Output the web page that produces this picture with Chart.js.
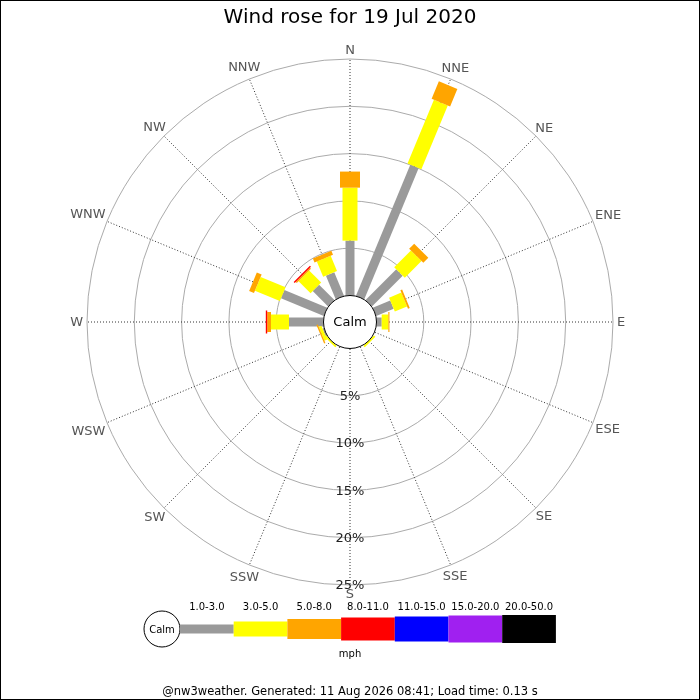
<!DOCTYPE html>
<html lang="en">
<head>
<meta charset="UTF-8">
<title>Wind rose for 19 Jul 2020</title>
<script src="https://cdn.jsdelivr.net/npm/chart.js"></script>
<style>
    body { margin: 0; background: #fff; }
    canvas { display: block; }
</style>
</head>
<body>
<canvas id="rose" width="700" height="700"></canvas>
<script>
const directions = ['N', 'NNE', 'NE', 'ENE', 'E', 'ESE', 'SE', 'SSE', 'S', 'SSW', 'SW', 'WSW', 'W', 'WNW', 'NW', 'NNW'];
const speedBands = ['1.0-3.0', '3.0-5.0', '5.0-8.0', '8.0-11.0', '11.0-15.0', '15.0-20.0', '20.0-50.0'];
const tickValues = [5, 10, 15, 20, 25];

// % of the day per direction, one array per speed band (mph)
const band1to3   = [5.8, 15.0, 4.6, 2.0, 0.55, 0, 0,   0, 0, 0, 0,   0.15, 3.65, 4.9,  2.3,  2.7];
const band3to5   = [5.6, 7.3,  2.5, 1.4, 0.7,  0, 0.2, 0, 0, 0, 0.2, 0.3,  1.9,  2.85, 1.8,  1.75];
const band5to8   = [1.7, 2.0,  0.75, 0.2, 0.12, 0, 0,  0, 0, 0, 0,   0.15, 0.4,  0.55, 0.15, 0.45];
const band8to11  = [0,   0,    0,   0,   0,    0, 0,   0, 0, 0, 0,   0,    0.15, 0,    0.15, 0];
const band11to15 = [0, 0, 0, 0, 0, 0, 0, 0, 0, 0, 0, 0, 0, 0, 0, 0];
const band15to20 = [0, 0, 0, 0, 0, 0, 0, 0, 0, 0, 0, 0, 0, 0, 0, 0];
const band20to50 = [0, 0, 0, 0, 0, 0, 0, 0, 0, 0, 0, 0, 0, 0, 0, 0];

const series = [band1to3, band3to5, band5to8, band8to11, band11to15, band15to20, band20to50];
const bandColours = ['#9a9a9a', '#ffff00', '#ffa500', '#ff0000', '#0000ff', '#a020f0', '#000000'];
const bandWidths = [9, 15, 20, 23, 25, 27, 28];
const FONT = '"DejaVu Sans", sans-serif';

// radar points sit at the cumulative end of each band
let running = directions.map(() => 0);
const datasets = series.map((vals, k) => {
    running = running.map((r, i) => r + vals[i]);
    return {
        label: speedBands[k] + ' mph',
        data: running.slice(),
        showLine: false,
        borderWidth: 0,
        pointRadius: 0,
        pointHoverRadius: 0,
        fill: false
    };
});

const windRose = {
    id: 'windRose',
    beforeDraw(chart) {
        const ctx = chart.ctx;
        ctx.save();
        ctx.fillStyle = '#fff';
        ctx.fillRect(0, 0, chart.width, chart.height);
        ctx.restore();
    },
    afterDatasetsDraw(chart) {
        const ctx = chart.ctx;
        const scale = chart.scales.r;
        ctx.save();
        ctx.lineCap = 'butt';
        series.forEach((vals, k) => {
            const meta = chart.getDatasetMeta(k);
            const prev = k ? chart.getDatasetMeta(k - 1) : null;
            meta.data.forEach((pt, i) => {
                if (!(vals[i] > 0)) return;
                const from = prev ? prev.data[i] : scale.getPointPositionForValue(i, 0);
                ctx.beginPath();
                ctx.moveTo(from.x, from.y);
                ctx.lineTo(pt.x, pt.y);
                ctx.lineWidth = bandWidths[k];
                ctx.strokeStyle = bandColours[k];
                ctx.stroke();
            });
        });

        // calm circle
        const r0 = scale.getDistanceFromCenterForValue(0);
        ctx.beginPath();
        ctx.arc(scale.xCenter, scale.yCenter, r0, 0, Math.PI * 2);
        ctx.fillStyle = '#fff';
        ctx.fill();
        ctx.lineWidth = 1;
        ctx.strokeStyle = '#000';
        ctx.stroke();
        ctx.fillStyle = '#000';
        ctx.font = '13px ' + FONT;
        ctx.textAlign = 'center';
        ctx.textBaseline = 'middle';
        ctx.fillText('Calm', scale.xCenter, scale.yCenter + 1);
        ctx.restore();
    },
    afterDraw(chart) {
        const ctx = chart.ctx;
        const scale = chart.scales.r;
        ctx.save();
        ctx.textAlign = 'center';
        ctx.textBaseline = 'middle';

        // compass labels
        ctx.font = '13px ' + FONT;
        ctx.fillStyle = '#555';
        directions.forEach((label, i) => {
            const a = scale.getIndexAngle(i);
            const w = ctx.measureText(label).width;
            const d = scale.drawingArea + 9 + Math.abs(Math.sin(a)) * (w / 2 - 5);
            const p = scale.getPointPosition(i, d);
            ctx.fillText(label, p.x, p.y + 1);
        });

        // percentage labels down the south line
        ctx.fillStyle = '#222';
        tickValues.forEach(v => {
            const d = scale.getDistanceFromCenterForValue(v);
            ctx.fillText(v + '%', scale.xCenter, scale.yCenter + d + 1);
        });

        // speed legend
        const cy = 629, x0 = 180, bw = 53.7;
        ctx.beginPath();
        ctx.arc(162, cy, 18, 0, Math.PI * 2);
        ctx.lineWidth = 1;
        ctx.strokeStyle = '#000';
        ctx.stroke();
        ctx.font = '10px ' + FONT;
        ctx.fillStyle = '#000';
        ctx.fillText('Calm', 162, cy + 1);
        speedBands.forEach((label, k) => {
            const h = bandWidths[k];
            ctx.fillStyle = bandColours[k];
            ctx.fillRect(x0 + k * bw, cy - h / 2, bw, h);
            ctx.fillStyle = '#000';
            ctx.fillText(label, x0 + k * bw + bw / 2, 607);
        });
        ctx.fillText('mph', 350, 654);

        ctx.font = '11.5px ' + FONT;
        ctx.fillText('@nw3weather. Generated: 11 Aug 2026 08:41; Load time: 0.13 s', 350, 692);

        ctx.strokeStyle = '#000';
        ctx.strokeRect(0.5, 0.5, chart.width - 1, chart.height - 1);
        ctx.restore();
    }
};

new Chart(document.getElementById('rose'), {
    type: 'radar',
    data: { labels: directions, datasets: datasets },
    options: {
        responsive: false,
        devicePixelRatio: 1,
        animation: false,
        events: [],
        layout: { padding: { top: 0, left: 87, right: 87, bottom: 115 } },
        plugins: {
            legend: { display: false },
            tooltip: { enabled: false },
            title: {
                display: true,
                text: 'Wind rose for 19 Jul 2020',
                color: '#000',
                font: { family: FONT, size: 20, weight: 'normal' },
                padding: { top: 6, bottom: 29 }
            }
        },
        scales: {
            r: {
                min: -2.8,
                max: 25,
                startAngle: 0,
                afterBuildTicks: s => { s.ticks = tickValues.map(v => ({ value: v })); },
                grid: { circular: true, color: '#ababab', lineWidth: 1 },
                angleLines: { color: '#333', lineWidth: 1, borderDash: [1, 2] },
                ticks: { display: false },
                pointLabels: { display: false }
            }
        }
    },
    plugins: [windRose]
});
</script>
</body>
</html>
